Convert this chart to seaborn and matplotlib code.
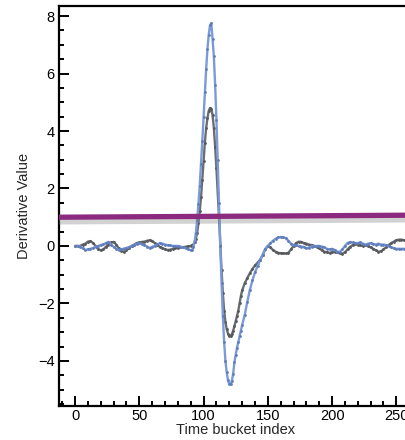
import matplotlib
matplotlib.use("Agg")
import matplotlib.pyplot as plt
import matplotlib.patheffects as pe
from matplotlib.ticker import MultipleLocator
import numpy as np
import seaborn as sns

# time bucket index: every 2 in the flat parts, every 1 around the pulse
bucket = np.concatenate([np.arange(0, 90, 2), np.arange(90, 131, 1), np.arange(132, 259, 2)])

grey_vals = [
    0.0, 0.0, 0.0, 0.05, 0.08, 0.15, 0.17, 0.1, 0.0, -0.12,
    -0.15, -0.12, -0.03, 0.05, 0.12, 0.14, 0.05, -0.08, -0.17, -0.2,
    -0.15, -0.08, 0.0, 0.05, 0.1, 0.12, 0.14, 0.15, 0.18, 0.2,
    0.17, 0.1, 0.03, -0.03, -0.07, -0.12, -0.14, -0.13, -0.1, -0.08,
    -0.07, -0.05, -0.04, -0.03, -0.01,
    # 90..130
    0.0, 0.03, 0.05, 0.12, 0.25, 0.45, 0.8, 1.2, 1.7, 2.3,
    2.95, 3.6, 4.1, 4.45, 4.7, 4.8, 4.78, 4.55, 4.1, 3.45,
    2.7, 1.85, 1.0, 0.05, -0.85, -1.65, -2.25, -2.65, -2.9, -3.05,
    -3.12, -3.14, -3.08, -2.95, -2.8, -2.62, -2.45, -2.25, -2.0, -1.75,
    -1.55,
    # 132..258
    -1.3, -1.12, -0.95, -0.8, -0.68, -0.58, -0.48, -0.32, -0.12, 0.0,
    -0.05, -0.14, -0.2, -0.24, -0.25, -0.26, -0.26, -0.24, -0.12, 0.0,
    0.1, 0.15, 0.14, 0.1, 0.08, 0.05, 0.03, 0.0, -0.02, -0.08,
    -0.15, -0.2, -0.22, -0.24, -0.22, -0.2, -0.22, -0.26, -0.27, -0.22,
    -0.12, -0.03, 0.03, 0.06, 0.05, 0.02, 0.0, 0.02, 0.0, -0.05,
    -0.1, -0.15, -0.2, -0.19, -0.12, -0.05, 0.03, 0.1, 0.15, 0.2,
    0.22, 0.22, 0.2, 0.2,
]

blue_vals = [
    0.0, 0.0, -0.02, -0.08, -0.14, -0.12, -0.1, -0.07, -0.03, 0.0,
    0.03, 0.06, 0.1, 0.14, 0.05, -0.03, -0.1, -0.14, -0.12, -0.09,
    -0.07, -0.04, 0.0, 0.03, 0.06, 0.1, 0.07, 0.03, -0.02, -0.07,
    -0.03, 0.0, 0.06, 0.1, 0.08, 0.05, 0.03, 0.02, 0.0, 0.0,
    0.0, -0.02, -0.05, -0.08, -0.12,
    # 90..130
    -0.15, -0.14, -0.05, 0.15, 0.45, 0.9, 1.45, 2.1, 2.85, 3.65,
    4.5, 5.35, 6.15, 6.85, 7.35, 7.68, 7.75, 7.2, 6.6, 5.6,
    4.4, 3.0, 1.5, 0.0, -1.3, -2.45, -3.35, -4.0, -4.4, -4.68,
    -4.8, -4.82, -4.7, -4.45, -4.05, -3.78, -3.55, -3.35, -3.15, -2.95,
    -2.75,
    # 132..258
    -2.4, -1.95, -1.53, -1.2, -0.92, -0.7, -0.5, -0.3, -0.1, 0.0,
    0.1, 0.18, 0.25, 0.3, 0.31, 0.3, 0.27, 0.18, 0.08, 0.03,
    0.02, 0.0, -0.02, -0.03, -0.08, -0.06, -0.02, 0.0, 0.0, 0.0,
    -0.02, -0.05, -0.1, -0.12, -0.1, -0.14, -0.2, -0.2, -0.12, 0.0,
    0.1, 0.14, 0.12, 0.1, 0.1, 0.12, 0.08, 0.05, 0.08, 0.1,
    0.07, 0.05, 0.08, 0.05, 0.05, 0.03, 0.0, -0.05, -0.08, -0.1,
    -0.1, -0.1, -0.1, -0.1,
]

threshold_x = [-12.5, 262]
threshold_y = [1.0, 1.07]

sns.set_style("ticks")
plt.rcParams["font.family"] = ["Liberation Sans", "DejaVu Sans"]

fig = plt.figure(figsize=(4.05, 4.4), dpi=100)
ax = fig.add_axes([0.1457, 0.0773, 0.871, 0.909])

sns.lineplot(x=bucket, y=grey_vals, ax=ax, color="#6a6e72", linewidth=1.7,
             marker="o", markersize=2.0, markeredgewidth=0,
             markerfacecolor="#55585b")
sns.lineplot(x=bucket, y=blue_vals, ax=ax, color="#7b9ad8", linewidth=1.7,
             marker="o", markersize=2.0, markeredgewidth=0,
             markerfacecolor="#5f7cba")

ax.plot(threshold_x, threshold_y, color="#8c2a7f", linewidth=3.8,
        solid_capstyle="butt", zorder=5,
        path_effects=[pe.SimpleLineShadow(offset=(0, -3), shadow_color="#808080",
                                          alpha=0.35, linewidth=4.5),
                      pe.Normal()])

ax.set_xlim(-12.5, 262)
ax.set_ylim(-5.57, 8.35)
ax.xaxis.set_major_locator(MultipleLocator(50))
ax.xaxis.set_minor_locator(MultipleLocator(10))
ax.yaxis.set_major_locator(MultipleLocator(2))
ax.yaxis.set_minor_locator(MultipleLocator(0.5))
ax.tick_params(which="both", direction="in", top=False, right=False,
               width=1.4, color="black", labelsize=10.5, labelcolor="black")
ax.tick_params(which="major", length=7)
ax.tick_params(axis="x", which="major", pad=2.5)
ax.tick_params(axis="y", which="major", pad=3)
ax.tick_params(which="minor", length=3.3)

for side in ["left", "bottom", "top"]:
    ax.spines[side].set_linewidth(1.6)
    ax.spines[side].set_color("black")
ax.spines["right"].set_visible(False)

ax.set_xlabel("Time bucket index", fontsize=10.5, labelpad=0)
ax.set_ylabel("Derivative Value", fontsize=10.5, labelpad=5)

fig.savefig("out.png", dpi=100)
